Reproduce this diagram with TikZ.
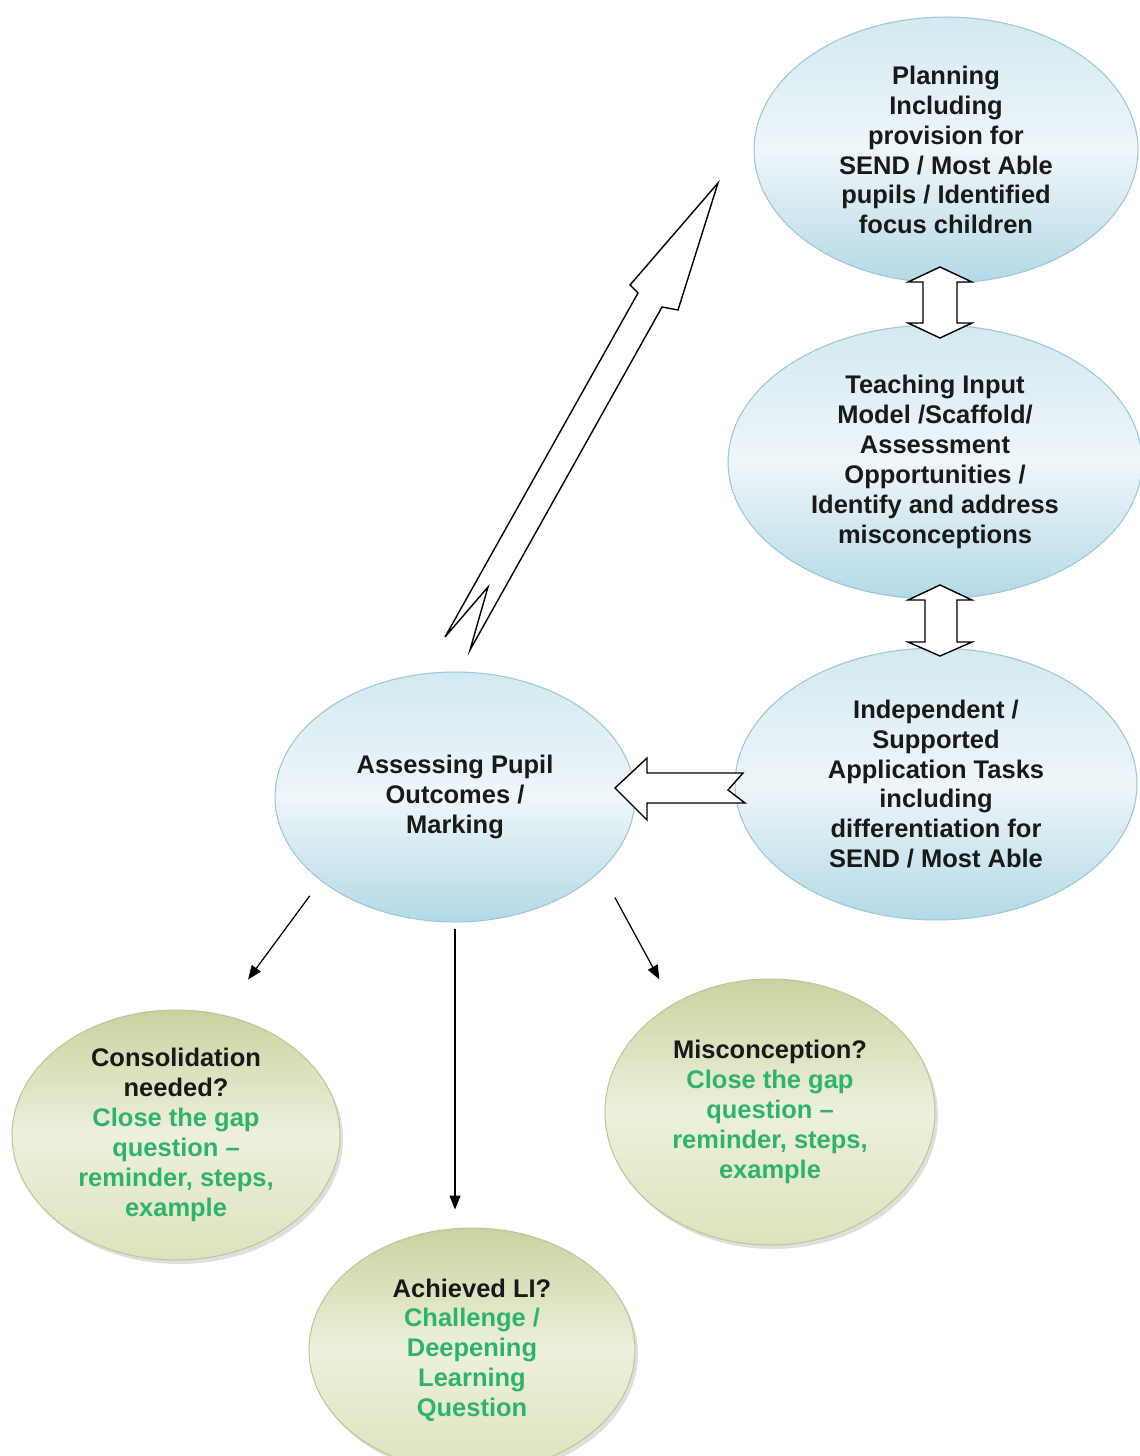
\documentclass[tikz,border=0pt]{standalone}
\usepackage{fontspec}
\setmainfont{Liberation Sans}
\usetikzlibrary{shapes.geometric,arrows.meta,shadows}
\definecolor{bubbletop}{HTML}{D3E9F1}
\definecolor{bubblelight}{HTML}{EEF6F9}
\definecolor{bubbleblue}{HTML}{B3D9E6}
\definecolor{rimblue}{HTML}{9DC6D6}
\definecolor{olivetop}{HTML}{C9D39F}
\definecolor{olivelight}{HTML}{EDF0DC}
\definecolor{olivebottom}{HTML}{DCE3BC}
\definecolor{rimolive}{HTML}{BCC79A}
\definecolor{gapgreen}{HTML}{2EB46A}

\begin{document}
\begin{tikzpicture}[x=0.02cm, y=-0.02cm,
  bubble/.style={ellipse, inner sep=0pt, align=center,
    font=\fontsize{14.5}{17}\selectfont\bfseries, text=black!90},
  bluebubble/.style={bubble, draw=rimblue, line width=0.6pt,
    top color=bubbletop, bottom color=bubbleblue, middle color=bubblelight},
  greenbubble/.style={bubble, draw=rimolive, line width=0.6pt,
    top color=olivetop, bottom color=olivebottom, middle color=olivelight,
    drop shadow={shadow xshift=0.06cm, shadow yshift=-0.08cm, opacity=0.25}},
  blockarrow/.style={draw=black, fill=white, line width=0.8pt, line join=miter},
  thinarrow/.style={-{Triangle[length=0.28cm, width=0.22cm]}, line width=0.7pt}]
\useasboundingbox (0,0) rectangle (1139,1456);

% the cycle
\node [bluebubble, minimum width=7.68cm, minimum height=5.32cm] (plan) at (946,150)
  {Planning\\Including\\provision for\\SEND / Most Able\\pupils / Identified\\focus children};
\node [bluebubble, minimum width=8.28cm, minimum height=5.48cm] (teach) at (935,462)
  {Teaching Input\\Model /Scaffold/\\Assessment\\Opportunities /\\Identify and address\\misconceptions};
\node [bluebubble, minimum width=8.04cm, minimum height=5.44cm] (indep) at (936,784)
  {Independent /\\Supported\\Application Tasks\\including\\differentiation for\\SEND / Most Able};
\node [bluebubble, minimum width=7.2cm, minimum height=5.0cm] (assess) at (455,797)
  {Assessing Pupil\\Outcomes /\\Marking};

% the outcomes
\node [greenbubble, minimum width=6.56cm, minimum height=5.0cm] (consol) at (176,1135)
  {Consolidation\\needed?\\\textcolor{gapgreen}{Close the gap}\\\textcolor{gapgreen}{question –}\\
   \textcolor{gapgreen}{reminder, steps,}\\\textcolor{gapgreen}{example}};
\node [greenbubble, minimum width=6.6cm, minimum height=5.32cm] (miscon) at (770,1112)
  {Misconception?\\\textcolor{gapgreen}{Close the gap}\\\textcolor{gapgreen}{question –}\\
   \textcolor{gapgreen}{reminder, steps,}\\\textcolor{gapgreen}{example}};
\node [greenbubble, minimum width=6.52cm, minimum height=4.88cm] (achieve) at (472,1350)
  {Achieved LI?\\\textcolor{gapgreen}{Challenge /}\\\textcolor{gapgreen}{Deepening}\\
   \textcolor{gapgreen}{Learning}\\\textcolor{gapgreen}{Question}};

% block arrows
\draw [blockarrow] (940,267) -- (972,282) -- (957,282) -- (957,323) -- (972,323) -- (940,338)
  -- (908,323) -- (923,323) -- (923,282) -- (908,282) -- cycle;
\draw [blockarrow] (940,585) -- (972,600) -- (957,600) -- (957,642) -- (972,642) -- (940,656)
  -- (908,642) -- (925,642) -- (925,600) -- (908,600) -- cycle;
\draw [blockarrow] (615,788) -- (647,758) -- (647,773) -- (743,773) -- (728,790) -- (745,803)
  -- (647,803) -- (647,820) -- cycle;
\draw [blockarrow] (445,637) -- (638,293) -- (630,285) -- (718,183) -- (678,310) -- (662,307)
  -- (470,650) -- (488,587) -- cycle;

% thin arrows to the outcomes
\draw [thinarrow, shorten <=0.37cm, shorten >=0.87cm] (assess.212) -- (consol.69);
\draw [thinarrow, shorten <=0.12cm, shorten >=0.36cm] (assess.south) -- (assess.south |- achieve.north);
\draw [thinarrow, shorten <=0.6cm, shorten >=0.56cm] (assess.333) -- (miscon.132);
\end{tikzpicture}
\end{document}
